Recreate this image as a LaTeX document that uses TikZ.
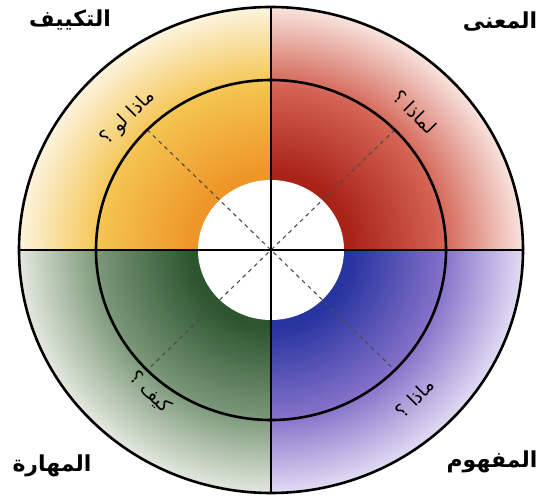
\documentclass[tikz,border=0pt]{standalone}
\usepackage{fontspec}
\usepackage{tikz}
\usetikzlibrary{calc, positioning}
\TeXXeTstate=1
\newfontfamily\arabicfont[Script=Arabic]{DejaVu Sans}

% colours of the four quarters
\definecolor{yelA}{RGB}{238,150,40}
\definecolor{yelB}{RGB}{244,196,80}
\definecolor{yelC}{RGB}{252,244,222}
\definecolor{redA}{RGB}{170,35,25}
\definecolor{redB}{RGB}{212,100,85}
\definecolor{redC}{RGB}{248,228,222}
\definecolor{bluA}{RGB}{40,52,160}
\definecolor{bluB}{RGB}{130,112,200}
\definecolor{bluC}{RGB}{226,220,244}
\definecolor{grnA}{RGB}{45,85,48}
\definecolor{grnB}{RGB}{120,150,118}
\definecolor{grnC}{RGB}{228,232,222}

% 25bp is the rim of the outer circle
\pgfdeclareradialshading{yelshade}{\pgfpoint{0bp}{0bp}}{color(0bp)=(yelA); color(8bp)=(yelA); color(17bp)=(yelB); color(25bp)=(yelC); color(50bp)=(yelC)}
\pgfdeclareradialshading{redshade}{\pgfpoint{0bp}{0bp}}{color(0bp)=(redA); color(8bp)=(redA); color(17bp)=(redB); color(25bp)=(redC); color(50bp)=(redC)}
\pgfdeclareradialshading{blushade}{\pgfpoint{0bp}{0bp}}{color(0bp)=(bluA); color(8bp)=(bluA); color(17bp)=(bluB); color(25bp)=(bluC); color(50bp)=(bluC)}
\pgfdeclareradialshading{grnshade}{\pgfpoint{0bp}{0bp}}{color(0bp)=(grnA); color(8bp)=(grnA); color(17bp)=(grnB); color(25bp)=(grnC); color(50bp)=(grnC)}

\begin{document}
\begin{tikzpicture}[
    x=1pt, y=1pt,
    corner/.style={font=\arabicfont\bfseries\fontsize{22}{26}\selectfont},
    ask/.style={font=\arabicfont\fontsize{19}{22}\selectfont},
    ring/.style={line width=2.6pt},
    axis/.style={line width=2pt},
    diag/.style={dash pattern=on 4pt off 4pt, line width=1.1pt, black!70}
]
\useasboundingbox (0,0) rectangle (539,499);
\coordinate (c) at (271,249);

% Quarters
\begin{scope}
  \clip (c) rectangle ++(-300,300);
  \fill[shading=yelshade] (c) ellipse [x radius=252, y radius=243];
\end{scope}
\begin{scope}
  \clip (c) rectangle ++(300,300);
  \fill[shading=redshade] (c) ellipse [x radius=252, y radius=243];
\end{scope}
\begin{scope}
  \clip (c) rectangle ++(300,-300);
  \fill[shading=blushade] (c) ellipse [x radius=252, y radius=243];
\end{scope}
\begin{scope}
  \clip (c) rectangle ++(-300,-300);
  \fill[shading=grnshade] (c) ellipse [x radius=252, y radius=243];
\end{scope}

% white centre
\fill[white] (c) ellipse [x radius=73, y radius=70];

% dashed diagonals
\draw[diag] ($(c)+(45:175 and 170)$) -- ($(c)+(225:175 and 170)$);
\draw[diag] ($(c)+(135:175 and 170)$) -- ($(c)+(315:175 and 170)$);

% circles and axes
\draw[ring] (c) ellipse [x radius=252, y radius=243];
\draw[ring] (c) ellipse [x radius=175, y radius=170];
\draw[axis] ($(c)+(0,243)$) -- ($(c)+(0,-243)$);
\draw[axis] ($(c)+(-252,0)$) -- ($(c)+(252,0)$);

% corner labels
\node[corner] (takyif) at (70,479) {\beginR التكييف\endR};
\node[corner] (mana) at (500,477) {\beginR المعنى\endR};
\node[corner] (mahara) at (52,33) {\beginR المهارة\endR};
\node[corner] (mafhum) at (492,37) {\beginR المفهوم\endR};

% questions in the ring
\node[ask, rotate=45] (madhalaw) at (128,381) {\beginR ماذا لو ؟\endR};
\node[ask, rotate=-45] (limadha) at (415,387) {\beginR لماذا ؟\endR};
\node[ask, rotate=-45] (kayfa) at (150,107) {\beginR كيف ؟\endR};
\node[ask, rotate=45] (madha) at (415,101) {\beginR ماذا ؟\endR};

\end{tikzpicture}
\end{document}
